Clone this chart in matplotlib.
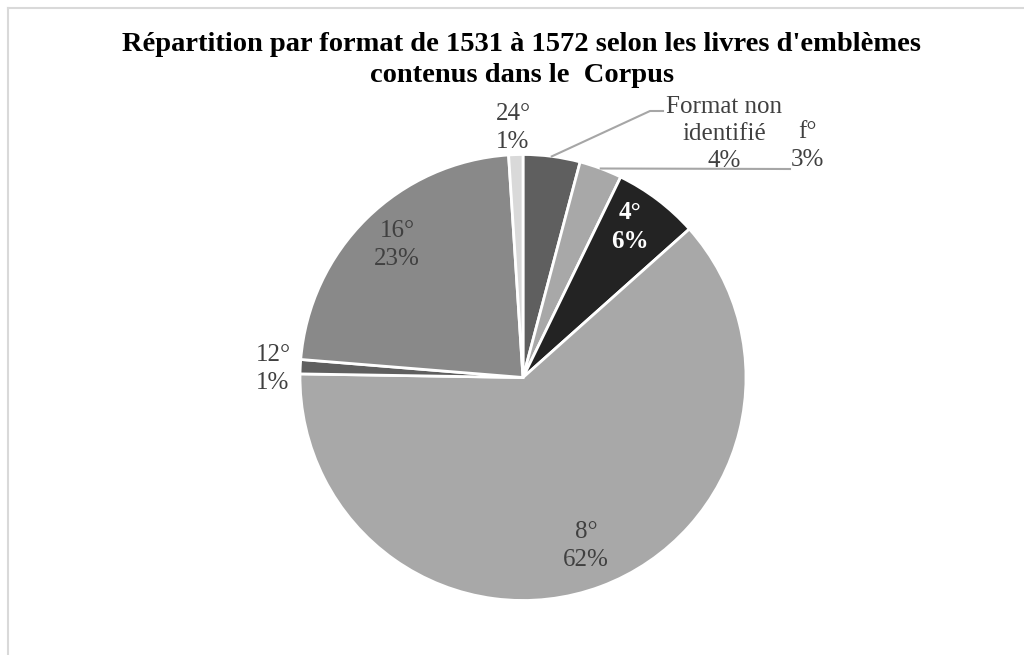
import numpy as np
import matplotlib
matplotlib.use('Agg')
import matplotlib.pyplot as plt
from matplotlib.lines import Line2D

# Données (nombre de livres par format)
formats = ['Format non\nidentifié', 'f°', '4°', '8°', '12°', '16°', '24°']
counts = [4, 3, 6, 60, 1, 22, 1]
colors = ['#5f5f5f', '#a8a8a8', '#232323', '#a8a8a8', '#5f5f5f', '#898989', '#d9d9d9']
titre = "Répartition par format de 1531 à 1572 selon les livres d'emblèmes\ncontenus dans le  Corpus"

plt.rcParams['font.family'] = ['Liberation Serif', 'DejaVu Serif']

fig = plt.figure(figsize=(10.24, 6.55), dpi=100)

# cadre (bords haut et gauche seulement visibles)
fig.add_artist(Line2D([8 / 1024, 1], [1 - 8 / 655, 1 - 8 / 655], color='#d9d9d9', lw=1.5))
fig.add_artist(Line2D([8 / 1024, 8 / 1024], [0, 1 - 8 / 655], color='#d9d9d9', lw=1.5))

# axe placé pour que le centre soit à (523, 377.5) px et le rayon 223 px
R = 223.0
cx, cy = 523.0, 377.5
half_w, half_h = 300.0, 250.0
ax = fig.add_axes([(cx - half_w) / 1024, (655 - cy - half_h) / 655, 2 * half_w / 1024, 2 * half_h / 655])

wedges, _ = ax.pie(counts, colors=colors, startangle=90, counterclock=False,
                   wedgeprops=dict(edgecolor='white', linewidth=2))
ax.set_xlim(-half_w / R, half_w / R)
ax.set_ylim(-half_h / R, half_h / R)
ax.axis('off')

total = sum(counts)
pcts = [round(c / total * 100) for c in counts]
labels = [f'{f}\n{p}%' for f, p in zip(formats, pcts)]

def px(x, y):
    return ((x - cx) / R, (cy - y) / R)

# positions des étiquettes (en px de l'image)
label_pos = [(724, 134), (807, 146), (630, 227), (586, 546), (273, 369), (397, 245), (513, 128)]
for i, (lab, pos) in enumerate(zip(labels, label_pos)):
    if i == 2:
        ax.text(*px(*pos), lab, ha='center', va='center', fontsize=18, color='white',
                fontweight='bold', linespacing=1.3, clip_on=False)
    else:
        ax.text(*px(*pos), lab, ha='center', va='center', fontsize=18, color='#404040',
                linespacing=1.3, clip_on=False)

# lignes de repère
def mid(i):
    start = 90 - sum(counts[:i]) / total * 360
    a = np.deg2rad(start - counts[i] / total * 180)
    return np.cos(a), np.sin(a)

x0, y0 = mid(0)
e1 = px(650, 111)
e2 = px(663, 111)
ax.plot([x0, e1[0], e2[0]], [y0, e1[1], e2[1]], color='#a6a6a6', lw=1.5, clip_on=False)
x0, y0 = mid(1)
e = px(790, 169)
ax.plot([x0, e[0]], [y0, e[1]], color='#a6a6a6', lw=1.5, clip_on=False)

fig.text(522 / 1024, 1 - 60 / 655, titre, ha='center', va='center', fontsize=20.5,
         fontweight='bold', color='black', linespacing=1.3)

fig.savefig('out.png', dpi=100, facecolor='white')
